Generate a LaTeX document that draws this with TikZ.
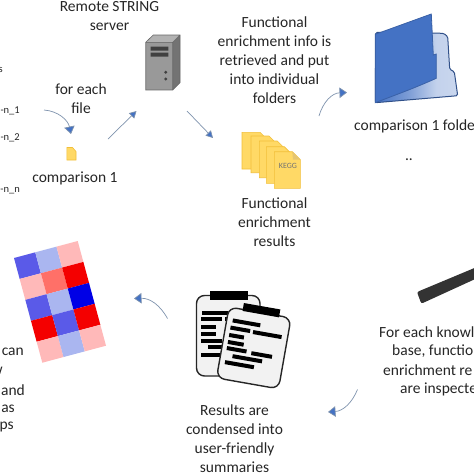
\documentclass[tikz,border=0pt]{standalone}
\usepackage{fontspec}
\setmainfont{Carlito}
\usetikzlibrary{arrows.meta}
\definecolor{blu}{HTML}{4472C4}
\definecolor{ln}{HTML}{7F93AE}
\definecolor{yel}{HTML}{FFD966}
\definecolor{yeb}{HTML}{F2BF3A}
\definecolor{hmA}{HTML}{5A5AE8}
\definecolor{hmB}{HTML}{AAB6F0}
\definecolor{hmC}{HTML}{FFB9B9}
\definecolor{hmD}{HTML}{FF7068}
\definecolor{hmE}{HTML}{F40000}
\definecolor{hmF}{HTML}{0000E6}
\pgfdeclarehorizontalshading{foldshade}{100bp}{color(0bp)=(blu); color(25bp)=(blu); color(45bp)=(blu!70); color(62bp)=(blu!32); color(100bp)=(blu!22)}
\tikzset{
 lbl/.style={font=\fontsize{15.5}{19}\selectfont,text=black!85,align=center,inner sep=0pt},
 small/.style={font=\fontsize{10.5}{12}\selectfont,text=black!85,inner sep=0pt},
 flow/.style={draw=ln,line width=0.7pt,-{Triangle[fill=blu,length=7.5pt,width=10.5pt]}},
 flowstraight/.style={draw=ln,line width=0.7pt,-{Triangle[fill=blu,length=7pt,width=7.5pt]}},
 doc/.style={fill=yel,draw=yeb,line width=0.6pt},
 bar/.style={fill=black,draw=none},
 sheet/.style={draw=black!85,line width=1.4pt,rounded corners=8pt,fill=black!5}
}
\begin{document}
\begin{tikzpicture}[x=1pt,y=-1pt]
\useasboundingbox (0,0) rectangle (474,474);
\clip (0,0) rectangle (474,474);
\fill[white] (0,0) rectangle (474,474);
% clipped texts, left
\node[small,anchor=east] (ta) at (3,70) {s};
\node[small,anchor=east] (tb) at (20,111) {-n\_1};
\node[small,anchor=east] (tc) at (20,138) {-n\_2};
\node[small,anchor=east] (td) at (20,191) {-n\_n};
\node[lbl] (remote) at (109.5,16) {Remote STRING\\server};
\node[lbl] (foreach) at (81,98.5) {for each\\file};
\node[lbl] (comp) at (75,178) {comparison 1};
\node[lbl] (info) at (274.5,60.5) {Functional\\enrichment info is\\retrieved and put\\into individual\\folders};
\node[lbl,anchor=west] (cf) at (354,126) {comparison 1 folde};
\node[lbl] (dots) at (409,160) {..};
\node[lbl] (res) at (274.5,222) {Functional\\enrichment\\results};
\node[lbl] (sum) at (234.5,438.5) {Results are\\condensed into\\user-friendly\\summaries};
\node[lbl,anchor=west] (ka) at (379,332) {For each knowl};
\node[lbl,anchor=west] (kb) at (392,351) {base, functio};
\node[lbl,anchor=west] (kc) at (383,370) {enrichment re};
\node[lbl,anchor=west] (kd) at (400,389) {are inspecte};
\node[lbl,anchor=east] (ha) at (24,352) {can};
\node[lbl,anchor=east] (hb) at (3,371) {w};
\node[lbl,anchor=east] (hc) at (25,390) {and};
\node[lbl,anchor=east] (hd) at (15,409) {as};
\node[lbl,anchor=east] (he) at (14,427) {ps};
% server
\fill[black!55] (172.7,42.3) -- (180,35) -- (180,82.7) -- (172.7,90) -- cycle;
\fill[black!30] (145.7,42.3) -- (153.3,35) -- (180,35) -- (172.7,42.3) -- cycle;
\fill[black!40] (145.7,42.3) rectangle (172.7,90);
\draw[black!60,line width=0.6pt] (145.7,42.3) rectangle (172.7,90) (145.7,42.3) -- (153.3,35) -- (180,35) -- (180,82.7) -- (172.7,90) (172.7,42.3) -- (180,35);
\fill[black!75] (150.7,46.7) rectangle (168.3,50.7) (150.7,52.7) rectangle (168.3,56.7);
\fill[black!75] (165.7,72.3) circle (1.6) (165.7,79) circle (1.6);
% small file
\path[doc] (66.9,147.5) -- (72.5,147.5) -- (76,151.5) -- (76,160) -- (66.9,160) -- cycle;
% KEGG docs
\foreach \xx/\yy in {242/132.3,251/136,259.3/141,266.3/146.7,274.3/151.7}{
 \path[doc] (\xx,\yy) -- (\xx+18,\yy) -- (\xx+26,\yy+8) -- (\xx+26,\yy+36.7) -- (\xx,\yy+36.7) -- cycle;
}
\path[fill=yeb!90!black!70] (292.3,151.7) -- (300.3,159.7) -- (293,159.7) -- cycle;
\node[font=\fontsize{8}{9}\selectfont,text=black!55,inner sep=0pt] (kegg) at (288,165.5) {KEGG};
% folder
\path[shading=foldshade,draw=blu!70!black,line width=1pt,rounded corners=1.5pt]
 (375.7,32.3) -- (443.7,33.3) -- (447.7,36.7) -- (449.7,69.3) -- (454.3,71.7) -- (457.7,95.7) -- (375.3,102.7) -- cycle;
\path[fill=blu,draw=blu!85!black,line width=0.8pt]
 (375.3,34.3) -- (431.3,14) -- (433.3,55) -- (436.3,54) -- (436.3,78.3) .. controls (410,90) and (395,95) .. (375.3,102.7) -- cycle;
% heatmap
\foreach \r/\cA/\cB/\cC [count=\i from 0] in {0/hmA/hmB/hmC,1/hmC/hmD/hmE,2/hmA/hmB/hmF,3/hmE/hmA/hmE,4/hmC/hmB/hmC}{
 \foreach \cc [count=\j from 0] in {\cA,\cB,\cC}{
  \pgfmathsetmacro\ux{63.7/3}\pgfmathsetmacro\uy{-17/3}
  \pgfmathsetmacro\vx{28.3/5}\pgfmathsetmacro\vy{104.7/5}
  \fill[\cc] (14+\j*\ux+\i*\vx,258+\j*\uy+\i*\vy) -- ++(\ux,\uy) -- ++(\vx,\vy) -- ++(-\ux,-\uy) -- cycle;
 }
}
% clipboard back
\path[sheet] (196.5,295.5) rectangle (260,376);
\fill[bar] (210,291) rectangle (247.5,300);
\foreach \y/\a/\b in {312.7/201.7/228,319.3/201/222,319.3/225/228,327/201/216,334/201/216,340.5/201/222,347/208/227,355/201/220}{
 \fill[bar] (\a,\y-2) rectangle (\b,\y+2);
}
% clipboard front
\begin{scope}[shift={(229,307)},rotate=-10]
\path[sheet] (0,0) rectangle (63,72);
\fill[bar] (14,-6.5) rectangle (51,1.5);
\foreach \y/\a/\b in {12.6/6/34,20/5/25,20.5/28/57,27.5/5/20,34.6/5/21,40.8/5/25,41.6/30/51,47.8/12/42,55/5.6/35}{
 \fill[bar] (\a,\y-2) rectangle (\b,\y+2);
}
\end{scope}
% pen
\fill[black!80,rounded corners=2pt] (417,292) -- (484,264) -- (484,275) -- (421.3,303.7) -- cycle;
% connectors
\coordinate (p1) at (44,110); \coordinate (p2) at (71,134);
\draw[flow] (p1) .. controls (58,111) and (68,120) .. (p2);
\coordinate (p3) at (108,139); \coordinate (p4) at (136.5,111);
\draw[flowstraight] (p3) -- (p4);
\coordinate (p5) at (187,111); \coordinate (p6) at (213,138);
\draw[flowstraight] (p5) -- (p6);
\coordinate (p7) at (319,116); \coordinate (p8) at (347,92.5);
\draw[flow] (p7) .. controls (323,102) and (332,93) .. (p8);
\coordinate (p9) at (357.5,389.5); \coordinate (p10) at (328,412);
\draw[flow] (p9) .. controls (352,403) and (343,411) .. (p10);
\coordinate (p11) at (167.5,318.5); \coordinate (p12) at (134,298.5);
\draw[flow] (p11) .. controls (160,305) and (150,298) .. (p12);
\end{tikzpicture}
\end{document}
